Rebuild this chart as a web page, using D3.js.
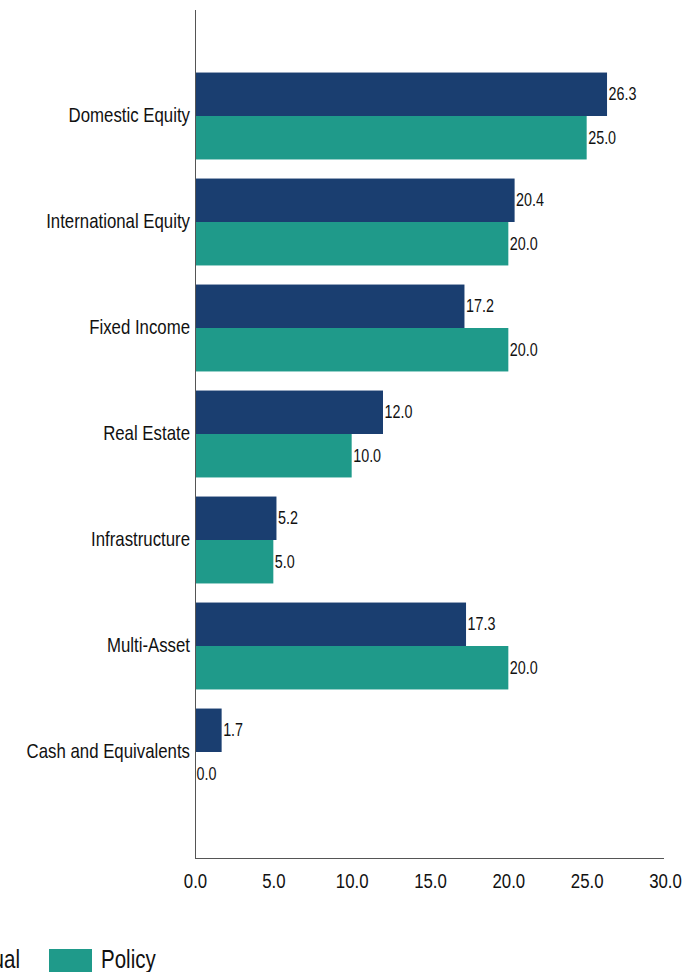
<!DOCTYPE html>
<html>
<head>
<meta charset="utf-8">
<script src="https://cdn.jsdelivr.net/npm/d3@7"></script>
<style>
  html, body { margin: 0; padding: 0; background: #fff; overflow: hidden; }
  text { font-family: "Liberation Sans", Arial, sans-serif; fill: #111; }
</style>
</head>
<body>
<svg id="chart" width="700" height="972"></svg>
<script>
// Asset allocation: actual vs. policy weights (%)
const categories = ["Domestic Equity", "International Equity", "Fixed Income", "Real Estate", "Infrastructure", "Multi-Asset", "Cash and Equivalents"];
const actualValues = [26.3, 20.4, 17.2, 12.0, 5.2, 17.3, 1.7];
const policyValues = [25.0, 20.0, 20.0, 10.0, 5.0, 20.0, 0.0];
const seriesNames = ["Actual", "Policy"];
const xTickValues = [0, 5, 10, 15, 20, 25, 30];

const colors = { Actual: "#1a3e70", Policy: "#1f9a8a" };
// condensed lettering: Liberation Sans squeezed horizontally
const NARROW = 0.82;

const svg = d3.select("#chart");
const plotLeft = 195, plotRight = 665, plotTop = 10, plotBottom = 858;

const x = d3.scaleLinear().domain([0, 30]).range([plotLeft, plotRight]);
const y = d3.scaleBand().domain(categories).range([plotTop, plotBottom])
  .paddingInner(0.18).paddingOuter(0.59);
const ySub = d3.scaleBand().domain(seriesNames).range([0, y.bandwidth()]);

// position a narrow text: the outer transform places it, the inner one condenses it
function narrowText(sel, px, py, size, anchor) {
  sel.attr("transform", function (d, i) {
      return `translate(${px(d, i)},${py(d, i)}) scale(${NARROW},1)`;
    })
    .attr("x", 0).attr("y", 0)
    .attr("text-anchor", anchor || "start")
    .style("font-size", size + "px");
  return sel;
}

const rows = categories.map((c, i) => ({
  category: c,
  values: [
    { series: "Actual", value: actualValues[i] },
    { series: "Policy", value: policyValues[i] }
  ]
}));

const groups = svg.append("g").selectAll("g")
  .data(rows).join("g")
  .attr("transform", d => `translate(0,${y(d.category)})`);

groups.selectAll("rect")
  .data(d => d.values).join("rect")
  .attr("x", x(0))
  .attr("y", d => ySub(d.series))
  .attr("width", d => x(d.value) - x(0))
  .attr("height", ySub.bandwidth())
  .attr("fill", d => colors[d.series]);

groups.selectAll("text.val")
  .data(d => d.values).join("text")
  .attr("class", "val")
  .call(narrowText, d => x(d.value) + 1.5, d => ySub(d.series) + ySub.bandwidth() / 2, 17.5)
  .attr("dy", "0.35em")
  .text(d => d3.format(".1f")(d.value));

// category labels
svg.append("g").selectAll("text")
  .data(categories).join("text")
  .call(narrowText, () => plotLeft - 5, d => y(d) + y.bandwidth() / 2 - 1, 20.5, "end")
  .attr("dy", "0.35em")
  .text(d => d);

// axes
const xAxis = d3.axisBottom(x).tickValues(xTickValues).tickSize(0).tickPadding(0)
  .tickFormat(d3.format(".1f"));
const gx = svg.append("g").attr("transform", `translate(0,${plotBottom})`).call(xAxis);
gx.attr("font-family", null).attr("font-size", null);
gx.select(".domain").attr("stroke", "#555").attr("d", `M${plotLeft},0.5H${plotRight - 1}`);
gx.selectAll(".tick text")
  .call(narrowText, () => 0, () => 30, 20.5, "middle")
  .attr("dy", 0)
  .attr("fill", "#111");

svg.append("line")
  .attr("x1", plotLeft + 0.5).attr("x2", plotLeft + 0.5)
  .attr("y1", plotTop).attr("y2", plotBottom)
  .attr("stroke", "#555");

// legend
const legend = svg.append("g").attr("transform", "translate(0,949)");
const items = [
  { name: "Actual", x: -89 },
  { name: "Policy", x: 49 }
];
const li = legend.selectAll("g").data(items).join("g")
  .attr("transform", d => `translate(${d.x},0)`);
li.append("rect").attr("width", 43).attr("height", 26).attr("fill", d => colors[d.name]);
li.append("text")
  .call(narrowText, () => 52, () => 19, 25)
  .text(d => d.name);
</script>
</body>
</html>
